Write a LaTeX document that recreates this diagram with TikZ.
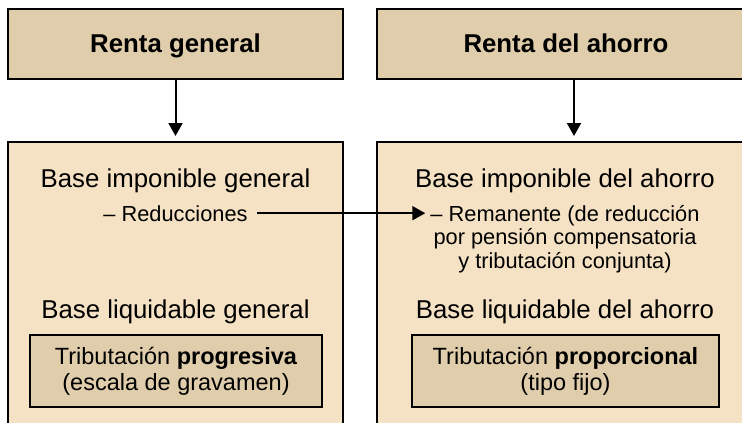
\documentclass[tikz,border=0pt]{standalone}
\usepackage{fontspec}
\setmainfont{Liberation Sans}
\usetikzlibrary{positioning,arrows.meta}
\definecolor{arena}{RGB}{224,205,171}
\definecolor{crema}{RGB}{245,226,196}

\begin{document}
\begin{tikzpicture}[x=1pt, y=-1pt,
    titulo/.style={draw, fill=arena, line width=2pt, minimum height=70pt, text height=18pt, text depth=0pt, font=\fontsize{25.8}{30}\selectfont\bfseries},
    marco/.style={draw, fill=crema, line width=2pt, minimum height=320pt},
    texto/.style={anchor=base, font=\fontsize{25.8}{30}\selectfont},
    nota/.style={align=center, font=\fontsize{21.8}{23.6}\selectfont},
    tributo/.style={draw, fill=arena, line width=1.5pt, minimum height=72pt, align=center, font=\fontsize{23.5}{26}\selectfont},
    flecha/.style={-{Triangle[length=13pt,width=14pt]}, line width=2pt}]
    \clip (0,0) rectangle (742,423);

    \node [titulo, minimum width=335pt] (RG) at (175.5,43.5) {Renta general};
    \node [titulo, minimum width=378pt] (RA) at (566,43.5) {Renta del ahorro};
    \node [marco, minimum width=335pt] (BG) at (175.5,302) {};
    \node [marco, minimum width=378pt] (BA) at (566,302) {};

    \node [texto] (BIG) at (175.5,187) {Base imponible general};
    \node [nota, anchor=base] (RED) at (175.5,221) {-- Reducciones};
    \node [texto] (BLG) at (175.5,318) {Base liquidable general};
    \node [tributo, minimum width=292pt] (TG) at (176,371) {Tributación \textbf{progresiva}\\(escala de gravamen)};

    \node [texto] (BIA) at (565,187) {Base imponible del ahorro};
    \node [nota, inner xsep=1pt] (REM) at (565,239) {-- Remanente (de reducción\\por pensión compensatoria\\y tributación conjunta)};
    \node [texto] (BLA) at (565,318) {Base liquidable del ahorro};
    \node [tributo, minimum width=307pt] (TA) at (565.5,371) {Tributación \textbf{proporcional}\\(tipo fijo)};

    \draw [flecha, shorten >=5pt] (RG) -- (BG);
    \draw [flecha, shorten >=5pt] ([xshift=8pt]RA.south) -- ([xshift=8pt]BA.north);
    \draw [flecha, shorten <=6pt, shorten >=4pt] (RED) -- (RED -| REM.west);
\end{tikzpicture}
\end{document}
